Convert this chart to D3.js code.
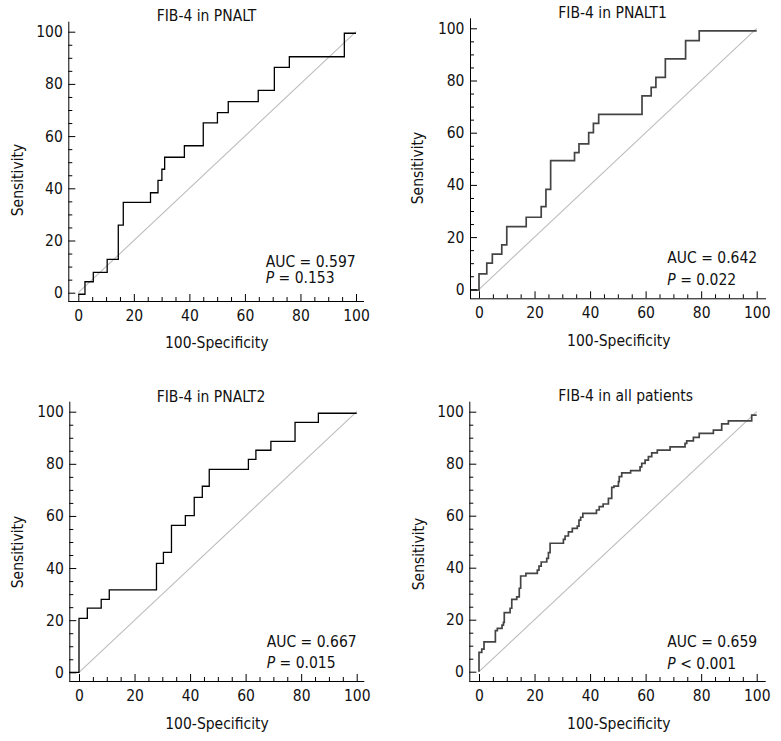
<!DOCTYPE html>
<html>
<head>
<meta charset="utf-8">
<script src="https://cdn.jsdelivr.net/npm/d3@7"></script>
<style>
  html, body { margin: 0; padding: 0; background: #fff; }
  svg text { font-family: "DejaVu Sans Condensed", "DejaVu Sans", Verdana, sans-serif; font-stretch: condensed; fill: #111; }
</style>
</head>
<body>
<script>
// ---------- data ----------
const titles = ["FIB-4 in PNALT", "FIB-4 in PNALT1", "FIB-4 in PNALT2", "FIB-4 in all patients"];
const aucLabels = ["AUC = 0.597", "AUC = 0.642", "AUC = 0.667", "AUC = 0.659"];
const pLabels = [" = 0.153", " = 0.022", " = 0.015", " < 0.001"];
const majorTicks = [0, 20, 40, 60, 80, 100];
const minorTicks = [5, 10, 15, 25, 30, 35, 45, 50, 55, 65, 70, 75, 85, 90, 95];
const xAxisLabel = "100-Specificity";
const yAxisLabel = "Sensitivity";

// ROC step curves: 100-Specificity (x) and Sensitivity (y) at each step corner
const pnaltFpr  = [0, 2.4, 5.4, 10.4, 14.4, 16.2, 26.0, 28.7, 30.1, 31.1, 38.2, 45.0, 50.1, 54.0, 64.8, 70.6, 76.0, 95.8, 100];
const pnaltSens = [-0.6, 4.2, 7.8, 12.8, 25.9, 34.6, 38.3, 43.0, 47.3, 51.9, 56.3, 65.1, 69.0, 73.2, 77.5, 86.3, 90.4, 99.4, 99.4];

const pnalt1Fpr  = [-3.2, 0, 2.8, 4.8, 8.2, 10.0, 17.0, 22.4, 24.1, 25.8, 34.4, 36.0, 39.5, 41.2, 43.1, 58.7, 62.0, 63.7, 67.1, 74.4, 79.3, 100];
const pnalt1Sens = [-0.3, 5.9, 10.0, 13.5, 17.0, 24.0, 27.6, 31.7, 38.3, 49.3, 52.4, 55.7, 60.0, 63.6, 67.0, 74.1, 77.4, 81.2, 88.3, 95.3, 99.0, 99.0];

const pnalt2Fpr  = [-3.5, 0, 3.0, 8.0, 10.9, 27.9, 30.4, 33.3, 38.3, 41.5, 44.4, 46.9, 61.0, 63.7, 69.1, 77.8, 86.2, 100];
const pnalt2Sens = [0, 20.7, 24.6, 28.0, 31.6, 41.8, 46.0, 56.4, 60.1, 67.1, 71.4, 77.9, 81.7, 85.2, 88.6, 95.9, 99.4, 99.4];

const allFpr  = [0, 0, 1.0, 1.8, 5.9, 6.6, 8.3, 8.8, 9.1, 11.2, 11.8, 13.6, 14.5, 15.0, 16.9, 21.0, 21.6, 22.4, 24.4, 25.0, 25.6,
                 30.4, 31.0, 32.2, 33.6, 35.4, 36.0, 36.6, 37.4, 42.3, 43.3, 44.7, 46.6, 47.8, 48.6, 50.2, 50.5, 51.4, 54.6,
                 58.0, 58.6, 59.8, 61.0, 62.2, 64.2, 68.8, 74.2, 74.8, 77.2, 79.3, 84.4, 87.4, 89.8, 98.2, 100];
const allSens = [0, 7.4, 8.7, 11.5, 15.8, 16.7, 17.9, 19.0, 22.7, 24.4, 27.8, 28.8, 32.1, 36.8, 37.8, 39.1, 40.6, 42.2, 43.6, 45.8, 49.4,
                 50.9, 52.2, 53.8, 55.1, 56.0, 58.3, 59.4, 60.9, 62.2, 63.5, 64.5, 66.7, 70.9, 71.4, 73.1, 75.0, 76.5, 77.3,
                 78.8, 80.1, 81.4, 82.7, 84.2, 85.2, 86.5, 87.8, 88.8, 90.1, 91.7, 92.9, 95.3, 96.5, 98.7, 98.7];

const curveFpr  = [pnaltFpr, pnalt1Fpr, pnalt2Fpr, allFpr];
const curveSens = [pnaltSens, pnalt1Sens, pnalt2Sens, allSens];

// ---------- layout (pixels) ----------
const layout = [
  { x0: 78.3, x100: 356, y0: 292.7, y100: 31.7, aL: 68.3, aB: 301, aT: 21.7, aR: 364,
    tx: 156.7, ty: 20.7, ylx: 22.5, yly: 180, xlx: 216.7, xly: 348, ax: 265.7, ay1: 266.7, ay2: 283.3,
    stroke: "#000", sw: 1.3 },
  { x0: 479, x100: 756.7, y0: 289.3, y100: 28.3, aL: 470, aB: 298.3, aT: 18.3, aR: 766,
    tx: 558.3, ty: 18.3, ylx: 422.7, yly: 168, xlx: 618.8, xly: 345.5, ax: 667.3, ay1: 263.3, ay2: 285,
    stroke: "#444", sw: 1.7 },
  { x0: 79, x100: 356.7, y0: 672.3, y100: 411.7, aL: 69.3, aB: 681, aT: 401.7, aR: 364.3,
    tx: 156.7, ty: 401.7, ylx: 23, yly: 552, xlx: 217, xly: 729, ax: 266.7, ay1: 646.7, ay2: 668.3,
    stroke: "#000", sw: 1.3 },
  { x0: 479, x100: 756.7, y0: 671.7, y100: 411.7, aL: 469.3, aB: 681, aT: 401.7, aR: 765.7,
    tx: 558.3, ty: 401, ylx: 423.5, yly: 554, xlx: 618.8, xly: 729, ax: 667.3, ay1: 646.7, ay2: 669,
    stroke: "#444", sw: 1.7 }
];

const FS = 15.5;
const svg = d3.select("body").append("svg").attr("width", 781).attr("height", 741);

layout.forEach((L, i) => {
  const x = d3.scaleLinear().domain([0, 100]).range([L.x0, L.x100]);
  const y = d3.scaleLinear().domain([0, 100]).range([L.y0, L.y100]);
  const g = svg.append("g");

  // reference diagonal
  g.append("line")
    .attr("x1", x(0)).attr("y1", y(0)).attr("x2", x(100)).attr("y2", y(100))
    .attr("stroke", "#bdbdbd").attr("stroke-width", 1.1);

  // ROC curve
  const pts = curveFpr[i].map((f, j) => [f, curveSens[i][j]]);
  const line = d3.line().x(d => x(d[0])).y(d => y(d[1])).curve(d3.curveStepAfter);
  g.append("path").attr("d", line(pts))
    .attr("fill", "none").attr("stroke", L.stroke).attr("stroke-width", L.sw);

  // axes
  const styleAxis = sel => {
    sel.select(".domain").remove();
    sel.selectAll("line").attr("stroke", "#000");
    sel.attr("font-family", null).attr("font-size", null);
    sel.selectAll("text").style("font-size", FS + "px").attr("fill", "#111");
  };
  g.append("g").attr("transform", `translate(${L.aL},0)`)
    .call(d3.axisLeft(y).tickValues(minorTicks).tickSize(-4).tickFormat(""))
    .call(styleAxis);
  g.append("g").attr("transform", `translate(${L.aL},0)`)
    .call(d3.axisLeft(y).tickValues(majorTicks).tickSize(-7).tickPadding(5.5).tickFormat(d3.format("d")))
    .call(styleAxis);
  g.append("g").attr("transform", `translate(0,${L.aB})`)
    .call(d3.axisBottom(x).tickValues(minorTicks).tickSize(-4).tickFormat(""))
    .call(styleAxis);
  g.append("g").attr("transform", `translate(0,${L.aB})`)
    .call(d3.axisBottom(x).tickValues(majorTicks).tickSize(-7).tickPadding(9).tickFormat(d3.format("d")))
    .call(styleAxis);

  g.append("line").attr("x1", L.aL + 0.5).attr("x2", L.aL + 0.5).attr("y1", L.aT).attr("y2", L.aB + 0.5)
    .attr("stroke", "#000").attr("stroke-width", 1);
  g.append("line").attr("x1", L.aL).attr("x2", L.aR).attr("y1", L.aB + 0.5).attr("y2", L.aB + 0.5)
    .attr("stroke", "#000").attr("stroke-width", 1);

  // title
  g.append("text").attr("x", L.tx).attr("y", L.ty).style("font-size", FS + "px").text(titles[i]);

  // axis labels
  g.append("text").attr("transform", `translate(${L.ylx},${L.yly}) rotate(-90)`)
    .attr("text-anchor", "middle").style("font-size", FS + "px").text(yAxisLabel);
  g.append("text").attr("x", L.xlx).attr("y", L.xly)
    .attr("text-anchor", "middle").style("font-size", FS + "px").text(xAxisLabel);

  // AUC / P annotation
  g.append("text").attr("x", L.ax).attr("y", L.ay1).style("font-size", FS + "px").text(aucLabels[i]);
  const pt = g.append("text").attr("x", L.ax).attr("y", L.ay2).style("font-size", FS + "px");
  pt.append("tspan").style("font-style", "italic").text("P");
  pt.append("tspan").text(pLabels[i]);
});
</script>
</body>
</html>
